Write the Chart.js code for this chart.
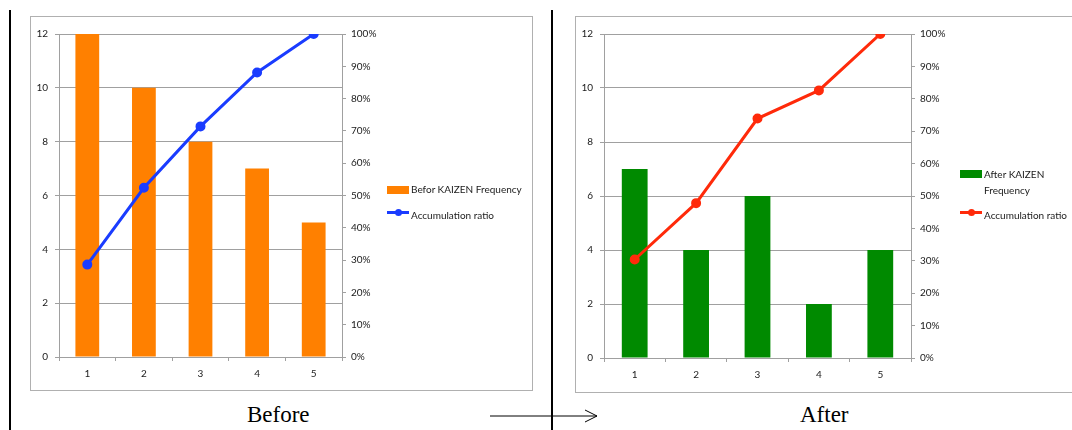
<!DOCTYPE html>
<html>
<head>
<meta charset="utf-8">
<script src="https://cdn.jsdelivr.net/npm/chart.js@4/dist/chart.umd.min.js"></script>
<style>
  html, body { margin: 0; padding: 0; background: #fff; width: 1072px; height: 430px; overflow: hidden; position: relative; }
  .panel { position: absolute; border: 1px solid #b0b0b0; box-sizing: border-box; background: #fff; }
  .panel canvas { position: absolute; left: 0; top: 0; }
  .vline { position: absolute; background: #000; }
  .caption { position: absolute; font-family: "Liberation Serif", "DejaVu Serif", serif; font-size: 23px; color: #000; }
  .legend { position: absolute; font-family: Lato, "Open Sans", sans-serif; font-size: 10px; color: #1a1a1a; }
  .legend .row { position: relative; height: 16px; line-height: 13px; }
  .sw-bar { position: absolute; left: 0; top: 0; width: 22px; height: 8px; }
  .sw-line { position: absolute; left: 0; top: 4px; width: 22px; height: 3px; }
  .sw-dot { position: absolute; left: 8px; top: -2px; width: 7px; height: 7px; border-radius: 50%; }
  .legend .txt { position: absolute; left: 24px; top: -3px; white-space: nowrap; }
  .arrow { position: absolute; }
</style>
</head>
<body>
<div class="vline" style="left:9px; top:10px; width:2px; height:420px;"></div>
<div class="vline" style="left:551px; top:10px; width:2px; height:420px;"></div>

<div class="panel" style="left:30px; top:16px; width:503px; height:375px;">
  <canvas id="before" width="501" height="373"></canvas>
</div>
<div class="panel" style="left:575px; top:16px; width:510px; height:377px;">
  <canvas id="after" width="508" height="375"></canvas>
</div>

<div class="legend" style="left:387px; top:186px;">
  <div class="row"><div class="sw-bar" style="background:#ff8000"></div><div class="txt">Befor KAIZEN Frequency</div></div>
  <div class="row" style="margin-top:10px;"><div class="sw-line" style="background:#1a3cff; top:-1px;"><div class="sw-dot" style="background:#1a3cff"></div></div><div class="txt">Accumulation ratio</div></div>
</div>

<div class="legend" style="left:960px; top:170px;">
  <div class="row"><div class="sw-bar" style="background:#008a00"></div><div class="txt" style="line-height:16px; top:-4px;">After KAIZEN<br>Frequency</div></div>
  <div class="row" style="margin-top:26px;"><div class="sw-line" style="background:#ff2a0a; top:-1px;"><div class="sw-dot" style="background:#ff2a0a"></div></div><div class="txt">Accumulation ratio</div></div>
</div>

<svg class="arrow" style="left:488px; top:408px;" width="112" height="16">
  <line x1="2" y1="8" x2="109" y2="8" stroke="#000" stroke-width="1"/>
  <polyline points="97,2 109,8 97,14" fill="none" stroke="#000" stroke-width="1"/>
</svg>

<div class="caption" style="left:247px; top:402px;">Before</div>
<div class="caption" style="left:800px; top:402px;">After</div>

<script>
// Categories shared by both charts
const categories = ['1', '2', '3', '4', '5'];

// Frequencies before and after the KAIZEN activity
const beforeFrequency = [12, 10, 8, 7, 5];
const afterFrequency = [7, 4, 6, 2, 4];

// Cumulative share of the total, in percent
const beforeAccumulation = [28.6, 52.4, 71.4, 88.1, 100];
const afterAccumulation = [30.4, 47.8, 73.9, 82.6, 100];

// Axis ranges and steps
const countMax = 12;
const countStep = 2;
const ratioMax = 100;
const ratioStep = 10;

const GRID = '#a0a0a0';
const TICK_FONT = { family: 'Lato, "Open Sans", sans-serif', size: 10 };
const TICK_COLOR = '#1a1a1a';

function paretoChart(id, barLabel, bars, barColor, ratio, lineColor, rightWidth, bottomHeight) {
  return new Chart(document.getElementById(id), {
    data: {
      labels: categories,
      datasets: [
        {
          type: 'line',
          label: 'Accumulation ratio',
          data: ratio,
          yAxisID: 'y1',
          borderColor: lineColor,
          backgroundColor: lineColor,
          borderWidth: 3,
          pointRadius: 3.5,
          pointHoverRadius: 3.5,
          tension: 0,
          order: 0
        },
        {
          type: 'bar',
          label: barLabel,
          data: bars,
          yAxisID: 'y',
          backgroundColor: barColor,
          barPercentage: 0.84,
          categoryPercentage: 0.5,
          order: 1
        }
      ]
    },
    options: {
      responsive: false,
      animation: false,
      devicePixelRatio: 1,
      layout: { padding: { top: 17, left: 0, right: 0, bottom: 0 } },
      plugins: { legend: { display: false }, tooltip: { enabled: false } },
      scales: {
        x: {
          offset: true,
          grid: { offset: true, drawOnChartArea: false, color: GRID, tickLength: 4 },
          border: { color: GRID },
          ticks: { color: TICK_COLOR, font: TICK_FONT, padding: 7 },
          afterFit: s => { s.height = bottomHeight; }
        },
        y: {
          position: 'left',
          min: 0,
          max: countMax,
          ticks: { stepSize: countStep, color: TICK_COLOR, font: TICK_FONT, padding: 7 },
          grid: { color: GRID, tickLength: 4 },
          border: { color: GRID },
          afterFit: s => { s.width = 28; }
        },
        y1: {
          position: 'right',
          min: 0,
          max: ratioMax,
          ticks: { stepSize: ratioStep, color: TICK_COLOR, font: TICK_FONT, padding: 5, callback: v => v + '%' },
          grid: { drawOnChartArea: false, color: GRID, tickLength: 4 },
          border: { color: GRID },
          afterFit: s => { s.width = rightWidth; }
        }
      }
    }
  });
}

paretoChart('before', 'Befor KAIZEN Frequency', beforeFrequency, '#ff8000', beforeAccumulation, '#1a3cff', 190, 33);
paretoChart('after', 'After KAIZEN Frequency', afterFrequency, '#008a00', afterAccumulation, '#ff2a0a', 173, 34);
</script>
</body>
</html>
